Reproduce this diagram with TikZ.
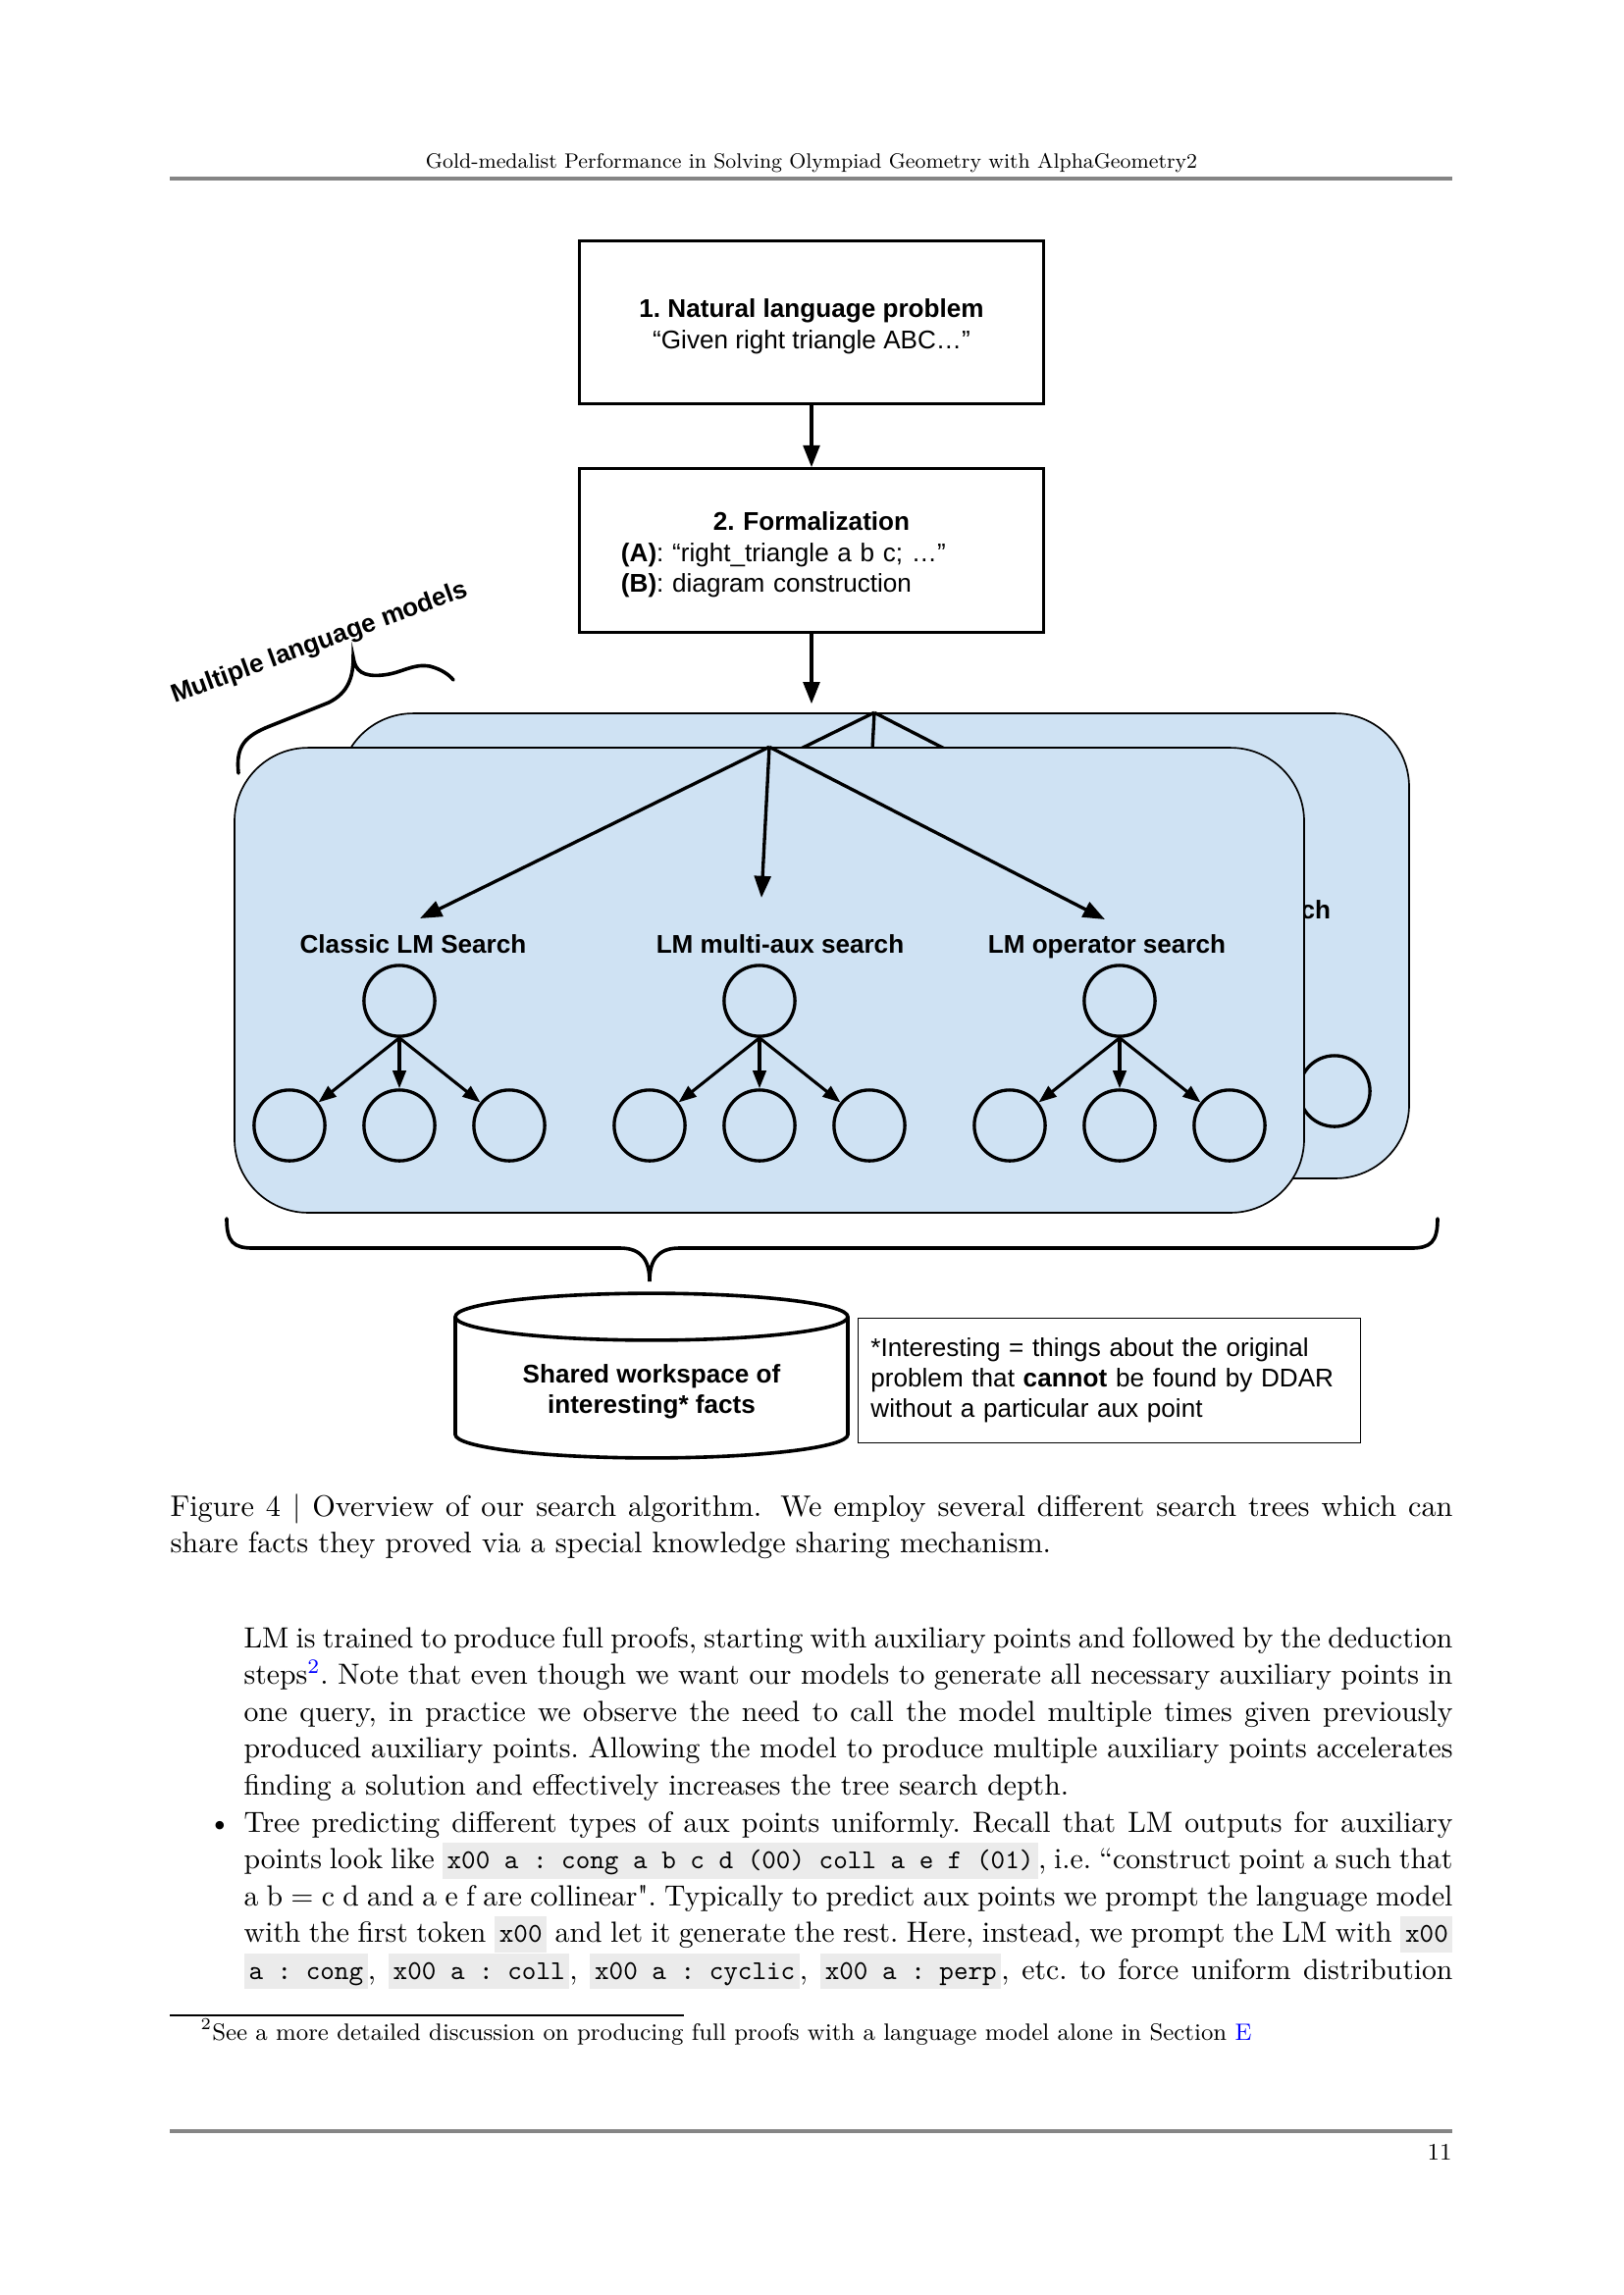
\documentclass[tikz,border=0pt]{standalone}
\usepackage{fontspec}
\newfontfamily\arial{Liberation Sans}
\usepackage{xcolor}
\usepackage{graphicx}
\usepackage{tikz}
\usetikzlibrary{arrows.meta,positioning,calc}

\definecolor{panelblue}{HTML}{CFE2F3}
\definecolor{rulegray}{HTML}{858585}
\definecolor{codegray}{HTML}{EBEBEB}
\definecolor{linkblue}{HTML}{0000FF}

\newcommand{\bodyfont}{\fontsize{10.7}{13.5}\selectfont\frenchspacing}
\newcommand{\capfont}{\fontsize{10.9}{13.5}\selectfont}
\newcommand{\notefont}{\fontsize{8.7}{11}\selectfont}
\newcommand{\figfont}{\arial\fontsize{9.4}{11.2}\selectfont}
\newcommand{\jline}[1]{\hbox to 443.5pt{\spaceskip=0.31em plus 0.2em minus 0.12em #1}}
\newcommand{\capline}[1]{\hbox to 470.5pt{#1}}
\newcommand{\code}[1]{{\setlength{\fboxsep}{0pt}\colorbox{codegray}{\rule[-3.6pt]{0pt}{13.2pt}\,\fontsize{10}{13}\ttfamily\spaceskip=0pt #1\,}}}
\newcommand{\topgap}{\rule{0pt}{9.9pt}}

% one stack of search trees; drawn twice (back copy and front copy)
\newcommand{\searchpanel}[1]{%
    \node[panel] (#1panel) at (784,999) {};
    \node[treelabel] (#1classic) at (421,971) {Classic LM Search};
    \node[treelabel] (#1multi) at (795,971) {LM multi-aux search};
    \node[treelabel] (#1oper) at (1128,971) {LM operator search};
    \coordinate (#1tipa) at (428,936);
    \coordinate (#1tipb) at (776,915);
    \coordinate (#1tipc) at (1126,937);
    \draw[flow] (#1panel.north) -- (#1tipa);
    \draw[flow] (#1panel.north) -- (#1tipb);
    \draw[flow] (#1panel.north) -- (#1tipc);
    \foreach \n/\x in {a/407,b/774,c/1141}{
        \node[treenode] (#1\n0) at (\x,1020) {};
        \node[treenode] (#1\n1) at ({\x-112},1147) {};
        \node[treenode] (#1\n2) at (\x,1147) {};
        \node[treenode] (#1\n3) at ({\x+112},1147) {};
        \draw[treeflow] (#1\n0.south) -- (#1\n1);
        \draw[treeflow] (#1\n0.south) -- (#1\n2);
        \draw[treeflow] (#1\n0.south) -- (#1\n3);
    }
}

\begin{document}
\begin{tikzpicture}[
        x=0.36pt, y=-0.36pt,
        probbox/.style={
            draw,
            line width=1.1pt,
            minimum width=170pt,
            minimum height=60pt,
            inner sep=0pt,
            font=\figfont
        },
        panel/.style={
            draw,
            line width=0.6pt,
            fill=panelblue,
            rounded corners=27pt,
            minimum width=392.4pt,
            minimum height=170.6pt,
            inner sep=0pt
        },
        treelabel/.style={font=\figfont\bfseries, inner sep=0pt, anchor=base},
        treenode/.style={circle, draw, line width=1.2pt, minimum size=26pt, inner sep=0pt},
        notebox/.style={
            draw,
            line width=0.5pt,
            text width=175pt,
            align=left,
            inner xsep=4.7pt,
            minimum height=45.7pt,
            font=\figfont
        },
        bodyline/.style={anchor=base west, inner sep=0pt, font=\bodyfont},
        flow/.style={-{Triangle[length=8pt,width=6pt]}, line width=1.2pt},
        treeflow/.style={-{Triangle[length=6.5pt,width=4.8pt]}, line width=1.1pt},
        bracket/.style={line width=1.3pt, line cap=round}
    ]

    \fill[white] (0,0) rectangle (1654,2339);
    \useasboundingbox (0,0) rectangle (1654,2339);

    % running head
    \node[anchor=base, inner sep=0pt, font=\fontsize{8.6}{10}\selectfont] (header) at (827,171)
        {\scalebox{0.89}{Gold-medalist Performance in Solving Olympiad Geometry with AlphaGeometry2}};
    \draw[rulegray, line width=1.4pt] (173,182) -- (1480,182);

    % problem and formalization
    \node[probbox, align=center] (nlp) at (827,328.5)
        {\topgap\textbf{1.\ Natural language problem}\\“Given right triangle ABC…”};
    \node[probbox, text width=139.7pt, align=left] (formal) at (827,561)
        {\topgap\makebox[139.7pt]{\bfseries 2.\ Formalization}\\
         \textbf{(A)}: “right\_triangle a b c; …”\\
         \textbf{(B)}: diagram construction};
    \draw[flow] (nlp) -- (formal);

    % stacked search panels
    \begin{scope}[shift={(107,-35)}]
        \searchpanel{back}
    \end{scope}
    \searchpanel{front}
    \draw[flow, shorten >=3.2pt] (formal.south) -- (formal.south |- backpanel.north);

    % brace for the several models
    \draw[bracket] (243,788) .. controls (240,760) and (250,750) .. (275,740) -- (335,716)
        .. controls (355,706) and (360,690) .. (360,670)
        .. controls (362,684) and (370,690) .. (390,688)
        .. controls (410,686) and (420,676) .. (438,679)
        .. controls (450,682) and (458,688) .. (462,693);
    \node[font=\figfont\bfseries, rotate=20, anchor=base, inner sep=0pt] (models) at (328,662)
        {Multiple language models};

    % brace into the shared workspace
    \draw[bracket] (231,1242) .. controls (231,1266) and (238,1272) .. (258,1272) -- (632,1272)
        .. controls (655,1272) and (662,1286) .. (662,1306)
        .. controls (662,1286) and (669,1272) .. (692,1272) -- (1438,1272)
        .. controls (1458,1272) and (1465,1266) .. (1465,1242);

    \node[font=\figfont\bfseries, align=center, inner sep=0pt] (facts) at (664,1418)
        {Shared workspace of\\interesting* facts};
    \draw[line width=1.3pt] (464,1342) -- (464,1462)
        arc[start angle=180, end angle=360, x radius=72pt, y radius=8.6pt] -- (864,1342);
    \draw[line width=1.3pt] (664,1342) ellipse [x radius=72pt, y radius=8.6pt];

    \node[notebox] (note) at (1130.5,1407)
        {*Interesting = things about the original\\problem that \textbf{cannot} be found by DDAR\\without a particular aux point};

    % caption
    \node[bodyline, font=\capfont] (cap1) at (173,1545)
        {\capline{Figure 4 | Overview of our search algorithm. We employ several different search trees which can}};
    \node[bodyline, font=\capfont] (cap2) at (173,1582)
        {share facts they proved via a special knowledge sharing mechanism.};

    % running text
    \node[bodyline] (body1) at (248,1679)
        {\jline{LM is trained to produce full proofs, starting with auxiliary points and followed by the deduction}};
    \node[bodyline] (body2) at (248,1716.6)
        {\jline{steps\textsuperscript{\color{linkblue}2}. Note that even though we want our models to generate all necessary auxiliary points in}};
    \node[bodyline] (body3) at (248,1754.2)
        {\jline{one query, in practice we observe the need to call the model multiple times given previously}};
    \node[bodyline] (body4) at (248,1791.8)
        {\jline{produced auxiliary points. Allowing the model to produce multiple auxiliary points accelerates}};
    \node[bodyline] (body5) at (248,1829.4)
        {finding a solution and effectively increases the tree search depth.};
    \node[anchor=base, inner sep=0pt, font=\bodyfont] (bullet) at (224,1867) {\textbullet};
    \node[bodyline] (body6) at (248,1867)
        {\jline{Tree predicting different types of aux points uniformly. Recall that LM outputs for auxiliary}};
    \node[bodyline] (body7) at (248,1904.6)
        {\jline{points look like \code{x00 a : cong a b c d (00) coll a e f (01)}, i.e. “construct point a such that}};
    \node[bodyline] (body8) at (248,1942.2)
        {\jline{a b = c d and a e f are collinear\textquotedbl. Typically to predict aux points we prompt the language model}};
    \node[bodyline] (body9) at (248,1979.8)
        {\jline{with the first token \code{x00} and let it generate the rest. Here, instead, we prompt the LM with \code{x00}}};
    \node[bodyline] (body10) at (248,2017.4)
        {\jline{\code{a : cong}, \code{x00 a : coll}, \code{x00 a : cyclic}, \code{x00 a : perp}, etc. to force uniform distribution}};

    % footnote and page foot
    \draw[line width=0.4pt] (173,2054) -- (697,2054);
    \node[anchor=base west, inner sep=0pt, font=\notefont] (foot) at (204,2079)
        {\textsuperscript{2}See a more detailed discussion on producing full proofs with a language model alone in Section {\color{linkblue}E}};
    \draw[rulegray, line width=1.4pt] (173,2172) -- (1480,2172);
    \node[anchor=base east, inner sep=0pt, font=\notefont] (pagenum) at (1480,2201) {11};

    \end{tikzpicture}
\end{document}
